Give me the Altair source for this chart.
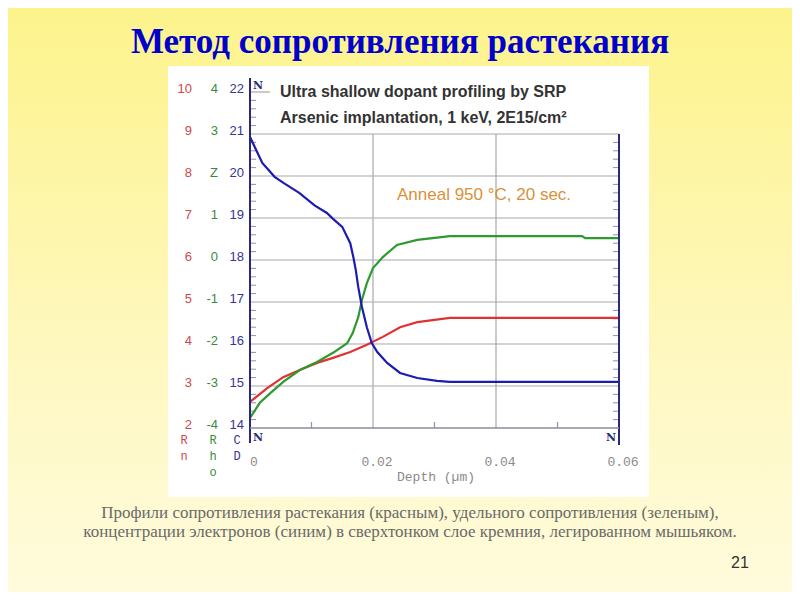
import altair as alt
import pandas as pd

# ---- data ----
depth_blue = [0, 0.002, 0.004, 0.0055, 0.008, 0.0105, 0.0125, 0.0135, 0.015, 0.0163, 0.0168,
              0.0172, 0.0176, 0.0182, 0.019, 0.0198, 0.0207, 0.0223, 0.0244, 0.0272, 0.0304,
              0.0325, 0.045, 0.06]
conc_blue = [20.93, 20.31, 19.98, 19.83, 19.60, 19.30, 19.12, 18.98, 18.79, 18.40, 18.07,
             17.76, 17.36, 16.88, 16.40, 16.02, 15.81, 15.55, 15.31, 15.19, 15.12,
             15.10, 15.10, 15.10]

depth_green = [0, 0.0016, 0.0033, 0.0054, 0.0081, 0.0109, 0.0135, 0.0158, 0.0167, 0.0176,
               0.0182, 0.019, 0.02, 0.0216, 0.0239, 0.0272, 0.0325, 0.054, 0.0545, 0.06]
rho_green = [-3.76, -3.40, -3.17, -2.90, -2.62, -2.43, -2.21, -1.98, -1.74, -1.36,
             -0.95, -0.55, -0.19, 0.07, 0.36, 0.48, 0.57, 0.57, 0.52, 0.52]

depth_red = [0, 0.0028, 0.0054, 0.0081, 0.0109, 0.0135, 0.0163, 0.019, 0.0216, 0.0244,
             0.0272, 0.0325, 0.06]
rn_red = [2.62, 2.95, 3.21, 3.38, 3.55, 3.67, 3.81, 3.98, 4.17, 4.40, 4.52, 4.62, 4.62]

red_ticks = [10, 9, 8, 7, 6, 5, 4, 3, 2]
green_ticks = [4, 3, 2, 1, 0, -1, -2, -3, -4]
green_tick_text = ["4", "3", "Z", "1", "0", "-1", "-2", "-3", "-4"]
blue_ticks = [22, 21, 20, 19, 18, 17, 16, 15, 14]
x_ticks = [0, 0.02, 0.04, 0.06]
x_tick_labels = ["0", "0.02", "0.04", "0.06"]
x_minor = [0.01, 0.03, 0.05]
grid_y = [15, 16, 17, 18, 19, 20, 21]
grid_x = [0.02, 0.04]

title = "Метод сопротивления растекания"
caption1 = "Профили сопротивления растекания (красным), удельного сопротивления (зеленым),"
caption2 = "концентрации электронов (синим) в сверхтонком слое кремния, легированном мышьяком."

W, H = 369, 336
xs = alt.Scale(domain=[0, 0.06], nice=False, zero=False)
ys = alt.Scale(domain=[14, 22], nice=False, zero=False)

one = pd.DataFrame({"a": [0]})
BLUE, GREEN, RED = "#1c1cb0", "#2e9a2e", "#e03232"
NAVY = "#2a2a78"

bg = alt.Chart(one).mark_rect(
    color=alt.LinearGradient(
        gradient="linear", x1=0, x2=0, y1=0, y2=1,
        stops=[alt.GradientStop(color="#fdf38c", offset=0),
               alt.GradientStop(color="#fef8c0", offset=0.6),
               alt.GradientStop(color="#fffbdc", offset=1)])
).encode(x=alt.value(-242), x2=alt.value(542), y=alt.value(-84), y2=alt.value(500))

white = alt.Chart(one).mark_rect(color="white").encode(
    x=alt.value(-82), x2=alt.value(399), y=alt.value(-26), y2=alt.value(405))

hgrid = alt.Chart(pd.DataFrame({"v": grid_y})).mark_rule(color="#a8a8a8", strokeWidth=1.2).encode(
    y=alt.Y("v:Q", scale=ys, axis=None), x=alt.value(0), x2=alt.value(W))
vgrid = alt.Chart(pd.DataFrame({"d": grid_x})).mark_rule(color="#a8a8a8", strokeWidth=1.2).encode(
    x=alt.X("d:Q", scale=xs, axis=None), y=alt.value(42), y2=alt.value(H))
topstub = alt.Chart(one).mark_rule(color="#a8a8a8", strokeWidth=1.2).encode(
    x=alt.value(0), x2=alt.value(20), y=alt.value(0))

minor_vals = [14 + i * 0.2 for i in range(41) if i % 5 != 0]
lminor = alt.Chart(pd.DataFrame({"v": minor_vals})).mark_rule(color="#9090a8").encode(
    y=alt.Y("v:Q", scale=ys), x=alt.value(0), x2=alt.value(6))
rminor = alt.Chart(pd.DataFrame({"v": [v for v in minor_vals if v < 21]})).mark_rule(color="#9090a8").encode(
    y=alt.Y("v:Q", scale=ys), x=alt.value(W - 6), x2=alt.value(W))
bticks = alt.Chart(pd.DataFrame({"d": x_minor})).mark_rule(color="#9090a8", strokeWidth=1.2).encode(
    x=alt.X("d:Q", scale=xs), y=alt.value(H - 6), y2=alt.value(H))

def curve(depth, vals, offset, color):
    df = pd.DataFrame({"depth": depth, "val": vals})
    return alt.Chart(df).transform_calculate(y=f"datum.val + {offset}").mark_line(
        color=color, strokeWidth=2.2).encode(
        x=alt.X("depth:Q", scale=xs), y=alt.Y("y:Q", scale=ys), order="depth:Q")

red_line = curve(depth_red, rn_red, 12, RED)
green_line = curve(depth_green, rho_green, 18, GREEN)
blue_line = curve(depth_blue, conc_blue, 0, BLUE)

laxis = alt.Chart(one).mark_rule(color=NAVY, strokeWidth=2).encode(
    x=alt.value(0), y=alt.value(-14), y2=alt.value(351))
raxis = alt.Chart(one).mark_rule(color=NAVY, strokeWidth=2).encode(
    x=alt.value(W), y=alt.value(42), y2=alt.value(353))
baxis = alt.Chart(one).mark_rule(color="#8a8aa8", strokeWidth=1.5).encode(
    x=alt.value(0), x2=alt.value(W), y=alt.value(H))

def col_labels(vals, texts, offset, xpos, color):
    df = pd.DataFrame({"v": vals, "t": texts})
    return alt.Chart(df).transform_calculate(y=f"datum.v + {offset}").mark_text(
        align="right", baseline="middle", font="Liberation Sans", fontSize=13, color=color, dy=-3).encode(
        y=alt.Y("y:Q", scale=ys), x=alt.value(xpos), text="t:N")

red_lab = col_labels(red_ticks, [str(v) for v in red_ticks], 12, -58, "#d04848")
green_lab = col_labels(green_ticks, green_tick_text, 18, -32, "#3a8a3a")
blue_lab = col_labels(blue_ticks, [str(v) for v in blue_ticks], 0, -6, "#34349a")

def letters(chars, xpos, color):
    rows = [348, 364, 380]
    layers = []
    for ch, yy in zip(chars, rows):
        layers.append(alt.Chart(one).mark_text(
            text=ch, font="Liberation Mono", fontSize=12, color=color,
            align="center", baseline="middle").encode(x=alt.value(xpos), y=alt.value(yy)))
    return layers

let_layers = letters(["R", "n"], -66, "#d04848") + letters(["R", "h", "o"], -37, "#3a8a3a") + \
    letters(["C", "D"], -13, "#34349a")

def ntext(xp, yp):
    return alt.Chart(one).mark_text(text="N", font="DejaVu Serif", fontSize=11, fontWeight="bold",
                                    color=NAVY, align="center", baseline="middle").encode(
        x=alt.value(xp), y=alt.value(yp))

xlab = alt.Chart(pd.DataFrame({"d": x_ticks, "t": x_tick_labels})).mark_text(
    font="Liberation Mono", fontSize=13, color="#8a8a8a", baseline="middle", dx=4).encode(
    x=alt.X("d:Q", scale=xs), y=alt.value(370), text="t:N")

def txt(s, xp, yp, **kw):
    return alt.Chart(one).mark_text(text=s, **kw).encode(x=alt.value(xp), y=alt.value(yp))

texts = [
    txt("Depth (µm)", 186, 385, font="Liberation Mono", fontSize=13, color="#8a8a8a", align="center", baseline="middle"),
    txt("Ultra shallow dopant profiling by SRP", 30, 0, font="Liberation Sans",
        fontSize=16, fontWeight="bold", color="#333333", align="left", baseline="middle"),
    txt("Arsenic implantation, 1 keV, 2E15/cm²", 30, 26, font="Liberation Sans",
        fontSize=16, fontWeight="bold", color="#333333", align="left", baseline="middle"),
    txt("Anneal 950 °C, 20 sec.", 147, 103, font="Liberation Sans", fontSize=17, color="#d9913a",
        align="left", baseline="middle"),
    txt(title, 150, -50, font="Liberation Serif", fontSize=35, fontWeight="bold", color="#0000cc",
        align="center", baseline="middle"),
    txt(caption1, 160, 421, font="Liberation Serif", fontSize=17, color="#6a6a6a", align="center", baseline="middle"),
    txt(caption2, 160, 440, font="Liberation Serif", fontSize=17, color="#6a6a6a", align="center", baseline="middle"),
    txt("21", 490, 471, font="Liberation Sans", fontSize=16, color="#333333", align="center", baseline="middle"),
]

chart = alt.layer(
    bg, white, hgrid, vgrid, topstub, lminor, rminor, bticks,
    red_line, green_line, blue_line,
    laxis, raxis, baxis,
    red_lab, green_lab, blue_lab, *let_layers,
    ntext(8, -6), ntext(8, 346), ntext(361, 346),
    xlab, *texts
).properties(
    width=W, height=H,
    padding={"left": 242, "top": 84, "right": 173, "bottom": 164},
    autosize=alt.AutoSizeParams(type="none"),
    background="#fdf6a8"
).configure_view(stroke=None)

chart.save("out.html", embed_options={"renderer": "svg", "actions": False})
